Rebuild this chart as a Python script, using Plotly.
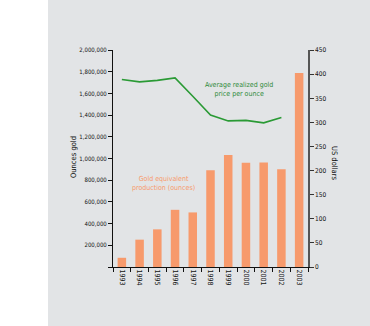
import plotly.graph_objects as go

years = ["1993", "1994", "1995", "1996", "1997", "1998", "1999", "2000", "2001", "2002", "2003"]
production_oz = [85000, 252000, 347000, 527000, 503000, 892000, 1032000, 961000, 963000, 901000, 1787000]
price_years = ["1993", "1994", "1995", "1996", "1997", "1998", "1999", "2000", "2001", "2002"]
price_usd = [389, 384, 387, 392, 354, 315, 303, 304, 299, 310]
left_ticks = [0, 200000, 400000, 600000, 800000, 1000000, 1200000, 1400000, 1600000, 1800000, 2000000]
left_labels = ["", "200,000", "400,000", "600,000", "800,000", "1,000,000", "1,200,000",
               "1,400,000", "1,600,000", "1,800,000", "2,000,000"]
right_ticks = [0, 50, 100, 150, 200, 250, 300, 350, 400, 450]

FONT = "DejaVu Sans Condensed, Liberation Sans Narrow, sans-serif"
BAR_COLOR = "#f79a6c"
LINE_COLOR = "#2a9a35"
TEXT_GREEN = "#2f8a3a"

fig = go.Figure()
fig.add_trace(go.Bar(x=years, y=production_oz, marker_color=BAR_COLOR, marker_line_width=0,
                     yaxis="y", showlegend=False))
fig.add_trace(go.Scatter(x=price_years, y=price_usd, mode="lines", yaxis="y2",
                         line=dict(color=LINE_COLOR, width=1.6), showlegend=False))

W, H = 370, 326
L, R, T, B = 113, 62, 50, 59
pw = W - L - R
ph = H - T - B

def px(x):
    return (x - L) / pw

def py(y):
    return (H - B - y) / ph

fig.update_layout(
    width=W, height=H,
    margin=dict(l=L, r=R, t=T, b=B, pad=0),
    paper_bgcolor="#e2e4e6", plot_bgcolor="rgba(0,0,0,0)",
    bargap=0.52,
    font=dict(family=FONT, size=6, color="#111"),
    xaxis=dict(type="category", showgrid=False, showline=True, linecolor="#111", linewidth=1,
               ticks="outside", ticklen=4, tickcolor="#111", tickson="boundaries",
               tickangle=90, tickfont=dict(size=7, family=FONT, color="#111")),
    yaxis=dict(range=[0, 2000000], tickvals=left_ticks, ticktext=left_labels, showgrid=False,
               zeroline=False, showline=True, linecolor="#111", linewidth=1,
               ticks="outside", ticklen=4, tickcolor="#111",
               tickfont=dict(size=6, family=FONT, color="#111")),
    yaxis2=dict(range=[0, 450], tickvals=right_ticks, overlaying="y", side="right", showgrid=False,
                zeroline=False, showline=True, linecolor="#555", linewidth=1.5,
                ticks="outside", ticklen=4, tickcolor="#333",
                tickfont=dict(size=6.5, family=FONT, color="#111")),
    shapes=[dict(type="rect", xref="paper", yref="paper",
                 x0=px(0), x1=px(48), y0=-1, y1=2,
                 fillcolor="white", line_width=0, layer="below")],
    annotations=[
        dict(text="Average realized gold<br>price per ounce", xref="paper", yref="paper",
             x=px(239), y=py(89), xanchor="center", yanchor="middle", showarrow=False,
             font=dict(size=7, family=FONT, color=TEXT_GREEN)),
        dict(text="Gold equivalent<br>production (ounces)", xref="paper", yref="paper",
             x=px(163), y=py(183), xanchor="center", yanchor="middle", showarrow=False,
             font=dict(size=7, family=FONT, color=BAR_COLOR)),
        dict(text="Ounces gold", xref="paper", yref="paper", x=px(73), y=py(157),
             xanchor="center", yanchor="middle",
             showarrow=False, textangle=-90, font=dict(size=7.5, family=FONT, color="#111")),
        dict(text="US dollars", xref="paper", yref="paper", x=px(335), y=py(163),
             xanchor="center", yanchor="middle",
             showarrow=False, textangle=90, font=dict(size=7.5, family=FONT, color="#111")),
    ],
)

fig.write_html("out.html")
